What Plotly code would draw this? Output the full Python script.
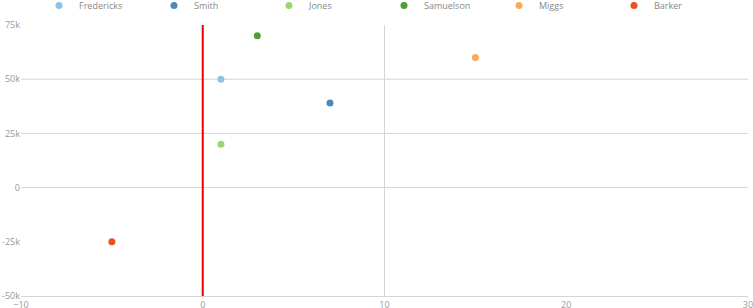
import plotly.graph_objects as go

names = ["Fredericks", "Smith", "Jones", "Samuelson", "Miggs", "Barker"]
x_vals = [1, 7, 1, 3, 15, -5]
y_vals = [50000, 39000, 20000, 70000, 60000, -25000]
colors = ["#8dc3e9", "#4a89bf", "#9bd76b", "#4f9e35", "#fcaa55", "#e8531e"]

x_ticks = [-10, 0, 10, 20, 30]
y_ticks = [-50000, -25000, 0, 25000, 50000, 75000]
y_tick_text = ["-50k", "-25k", "0", "25k", "50k", "75k"]
y_grid = [0, 25000, 50000]
x_grid = [10]
ref_x = 0

fig = go.Figure()
for n, x, y, c in zip(names, x_vals, y_vals, colors):
    fig.add_trace(go.Scatter(x=[x], y=[y], mode="markers", name=n,
                             marker=dict(color=c, size=7, line=dict(width=0))))

for g in y_grid:
    fig.add_shape(type="line", xref="x domain", yref="y", x0=0, x1=1, y0=g, y1=g,
                  line=dict(color="#d4d4d4", width=1), layer="below")
for g in x_grid:
    fig.add_shape(type="line", xref="x", yref="y domain", x0=g, x1=g, y0=0, y1=1,
                  line=dict(color="#d4d4d4", width=1), layer="below")
fig.add_shape(type="line", xref="x", yref="y domain", x0=ref_x, x1=ref_x, y0=0, y1=1,
              line=dict(color="#ee0000", width=2))

fig.update_layout(
    width=753, height=308,
    margin=dict(l=21, r=5, t=25, b=12, autoexpand=False),
    paper_bgcolor="white", plot_bgcolor="white",
    font=dict(family="Open Sans", size=9, color="#999999"),
    showlegend=True,
    legend=dict(orientation="h", x=39 / 753, xref="container", xanchor="left",
                y=1 + 34 / 271, yanchor="top", yref="paper",
                entrywidth=70, entrywidthmode="pixels",
                itemwidth=30, font=dict(size=9, color="#888888"),
                bgcolor="rgba(0,0,0,0)"),
    xaxis=dict(range=[-10, 30], tickvals=x_ticks, showgrid=False, zeroline=False,
               showline=True, linecolor="#d4d4d4", linewidth=1, ticks="", ticklen=0,
               ticklabeloverflow="allow", automargin=False, fixedrange=True),
    yaxis=dict(range=[-50000, 75000], tickvals=y_ticks, ticktext=y_tick_text,
               showgrid=False, zeroline=False, showline=False, ticks="", ticklen=0,
               automargin=False, fixedrange=True),
)
fig.write_html("out.html")
